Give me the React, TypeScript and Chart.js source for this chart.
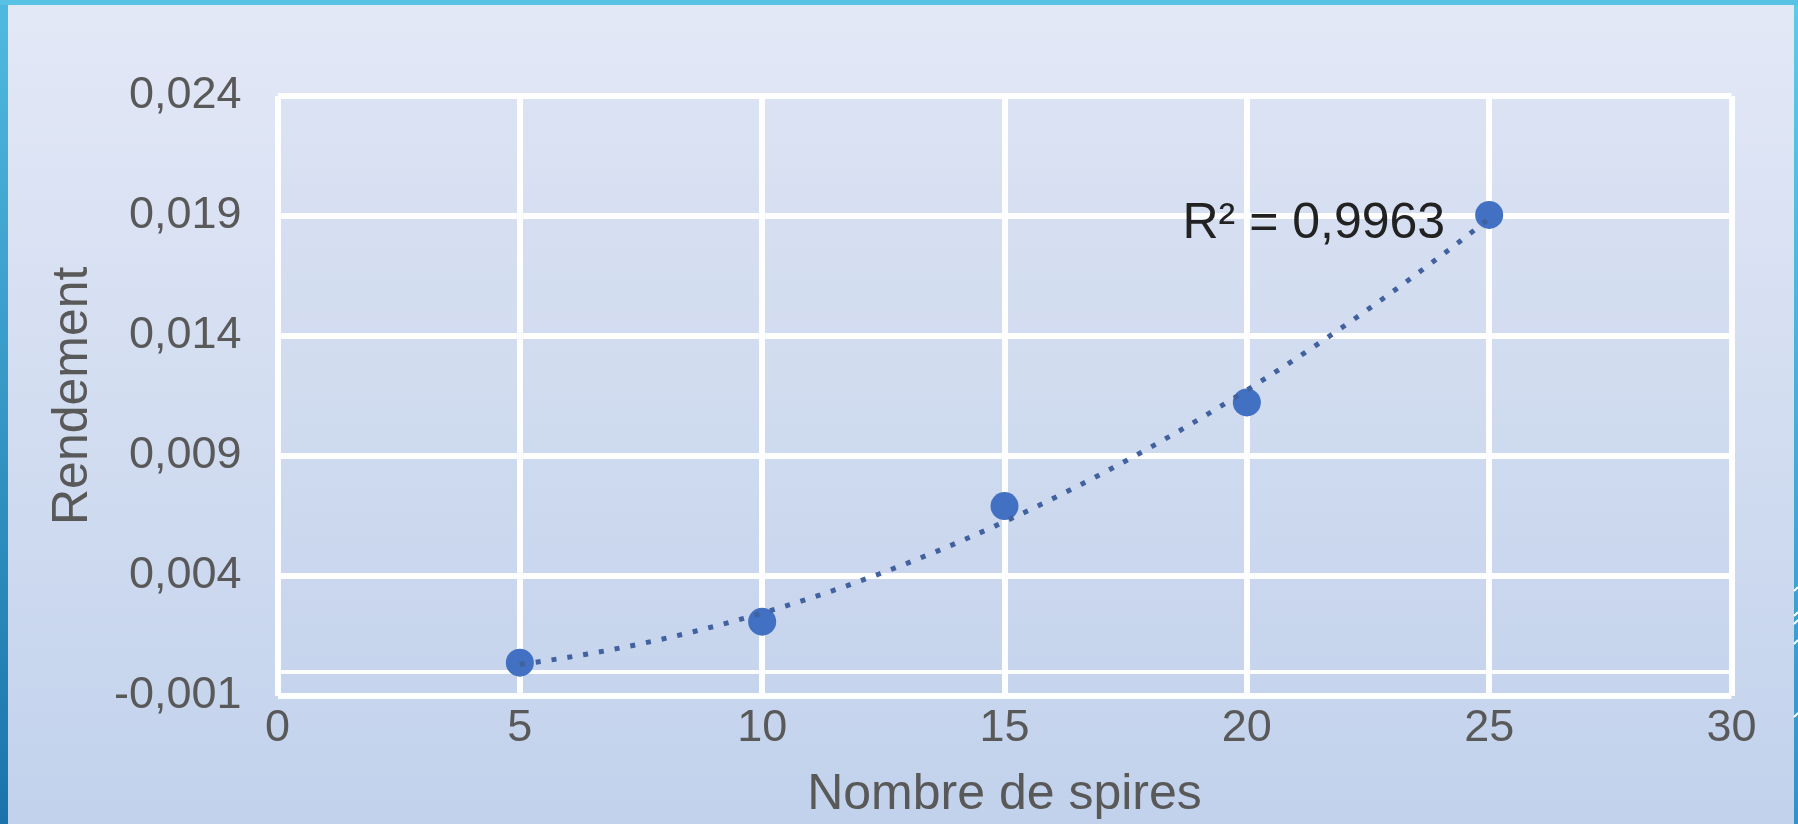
import React, { useEffect, useRef } from "react";
import { Chart, registerables } from "chart.js";

Chart.register(...registerables);

// ---- data ----
const spires = [5, 10, 15, 20, 25];
const rendement = [0.00037, 0.00208, 0.0069, 0.01122, 0.01904];
const xTicks = [0, 5, 10, 15, 20, 25, 30];
const yTicks = [-0.001, 0, 0.004, 0.009, 0.014, 0.019, 0.024];
const yTickLabels = ["-0,001", "", "0,004", "0,009", "0,014", "0,019", "0,024"];
const xTitle = "Nombre de spires";
const yTitle = "Rendement";
const r2Label = "R² = 0,9963";

const W = 1798;
const H = 824;
const FONT = "'Liberation Sans', Arial, Helvetica, sans-serif";

// second order polynomial trend line (least squares) built from the data
function quadFit(xs: number[], ys: number[]) {
  let s0 = 0, s1 = 0, s2 = 0, s3 = 0, s4 = 0, t0 = 0, t1 = 0, t2 = 0;
  for (let i = 0; i < xs.length; i++) {
    const x = xs[i], y = ys[i];
    s0 += 1; s1 += x; s2 += x * x; s3 += x * x * x; s4 += x * x * x * x;
    t0 += y; t1 += x * y; t2 += x * x * y;
  }
  const m = [
    [s0, s1, s2, t0],
    [s1, s2, s3, t1],
    [s2, s3, s4, t2],
  ];
  for (let c = 0; c < 3; c++) {
    for (let r = c + 1; r < 3; r++) {
      const f = m[r][c] / m[c][c];
      for (let k = c; k < 4; k++) m[r][k] -= f * m[c][k];
    }
  }
  const s = [0, 0, 0];
  for (let r = 2; r >= 0; r--) {
    let v = m[r][3];
    for (let k = r + 1; k < 3; k++) v -= m[r][k] * s[k];
    s[r] = v / m[r][r];
  }
  return (x: number) => s[0] + s[1] * x + s[2] * x * x;
}

const fit = quadFit(spires, rendement);
const trendPoints: { x: number; y: number }[] = [];
{
  const x0 = spires[0];
  const x1 = spires[spires.length - 1];
  const n = 100;
  for (let i = 0; i <= n; i++) {
    const x = x0 + ((x1 - x0) * i) / n;
    trendPoints.push({ x, y: fit(x) });
  }
}

const backgroundPlugin = {
  id: "bg",
  beforeDraw(chart: any) {
    const { ctx, chartArea } = chart;
    ctx.save();
    const g = ctx.createLinearGradient(0, 0, 0, H);
    g.addColorStop(0, "#e3e8f6");
    g.addColorStop(1, "#c2d2ec");
    ctx.fillStyle = g;
    ctx.fillRect(0, 0, W, H);
    // plot area tint
    ctx.fillStyle = "rgba(190,205,232,0.12)";
    ctx.fillRect(chartArea.left, chartArea.top, chartArea.right - chartArea.left, chartArea.bottom - chartArea.top);
    // slide frame stripes
    const gl = ctx.createLinearGradient(0, 0, 0, H);
    gl.addColorStop(0, "#4fbadf");
    gl.addColorStop(1, "#1a74ab");
    ctx.fillStyle = gl;
    ctx.fillRect(0, 0, 8, H);
    const gr = ctx.createLinearGradient(0, 0, 0, H);
    gr.addColorStop(0, "#5ccbe6");
    gr.addColorStop(1, "#3291c5");
    ctx.fillStyle = gr;
    ctx.fillRect(W - 4, 0, 4, H);
    ctx.fillStyle = "#57c2e3";
    ctx.fillRect(0, 0, W, 5);
    // small white marks on the right edge
    ctx.strokeStyle = "#ffffff";
    ctx.lineWidth = 2;
    [587, 612, 620, 640, 713].forEach((y) => {
      ctx.beginPath();
      ctx.moveTo(W - 4, y + 4);
      ctx.lineTo(W, y);
      ctx.stroke();
    });
    ctx.restore();
  },
};

const r2Plugin = {
  id: "r2",
  afterDatasetsDraw(chart: any) {
    const { ctx, scales } = chart;
    const last = spires.length - 1;
    const px = scales.x.getPixelForValue(spires[last]);
    const py = scales.y.getPixelForValue(rendement[last]);
    ctx.save();
    ctx.font = `50px ${FONT}`;
    ctx.fillStyle = "#222222";
    ctx.textAlign = "right";
    ctx.textBaseline = "alphabetic";
    ctx.fillText(r2Label, px - 44, py + 23);
    ctx.restore();
  },
};

export default function App() {
  const ref = useRef<HTMLCanvasElement | null>(null);

  useEffect(() => {
    if (!ref.current) return;
    const isZero = (v: number) => Math.abs(v) < 1e-9;
    const chart = new Chart(ref.current, {
      type: "scatter",
      data: {
        datasets: [
          {
            label: "trend",
            data: trendPoints,
            showLine: true,
            pointRadius: 0,
            borderColor: "#41619f",
            borderWidth: 5,
            borderDash: [5, 11],
            borderCapStyle: "butt",
            tension: 0,
            fill: false,
          } as any,
          {
            label: "Rendement",
            data: spires.map((x, i) => ({ x, y: rendement[i] })),
            showLine: false,
            pointRadius: 14,
            pointHoverRadius: 14,
            pointBorderWidth: 0,
            backgroundColor: "#4270c2",
            borderColor: "#4270c2",
          },
        ],
      },
      options: {
        responsive: false,
        animation: false,
        events: [],
        layout: { padding: { top: 96, right: 66.5, left: 0, bottom: 0 } },
        plugins: {
          legend: { display: false },
          tooltip: { enabled: false },
        },
        scales: {
          x: {
            type: "linear",
            min: xTicks[0],
            max: xTicks[xTicks.length - 1],
            afterBuildTicks: (scale: any) => {
              scale.ticks = xTicks.map((v) => ({ value: v }));
            },
            afterFit: (scale: any) => {
              scale.height = 128.5;
            },
            grid: { color: "rgba(255,255,255,0.97)", lineWidth: 6, drawTicks: false },
            border: { display: false },
            ticks: {
              autoSkip: false,
              maxRotation: 0,
              padding: 6,
              color: "#595959",
              font: { family: FONT, size: 45 },
              callback: (v: any) => String(v),
            },
            title: {
              display: true,
              text: xTitle,
              color: "#595959",
              font: { family: FONT, size: 50, lineHeight: 1.1 },
              padding: { top: 0, bottom: 1.5 },
            },
          },
          y: {
            type: "linear",
            min: yTicks[0],
            max: yTicks[yTicks.length - 1],
            afterBuildTicks: (scale: any) => {
              scale.ticks = yTicks.map((v) => ({ value: v }));
            },
            afterFit: (scale: any) => {
              scale.width = 277.5;
            },
            grid: {
              color: "rgba(255,255,255,0.97)",
              lineWidth: (c: any) => (c.tick && isZero(c.tick.value) ? 4 : 6),
              drawTicks: false,
            },
            border: { display: false },
            ticks: {
              autoSkip: false,
              padding: 36,
              color: "#595959",
              font: { family: FONT, size: 45 },
              callback: (v: any) => {
                const i = yTicks.findIndex((t) => Math.abs(t - Number(v)) < 1e-9);
                return i >= 0 ? yTickLabels[i] : "";
              },
            },
            title: {
              display: true,
              text: yTitle,
              color: "#595959",
              font: { family: FONT, size: 50 },
              padding: { top: 43.5, bottom: 0 },
            },
          },
        },
      },
      plugins: [backgroundPlugin, r2Plugin],
    });
    return () => chart.destroy();
  }, []);

  return (
    <div style={{ position: "fixed", left: 0, top: 0, width: W, height: H }}>
      <canvas ref={ref} width={W} height={H} style={{ width: W, height: H, display: "block" }} />
    </div>
  );
}
